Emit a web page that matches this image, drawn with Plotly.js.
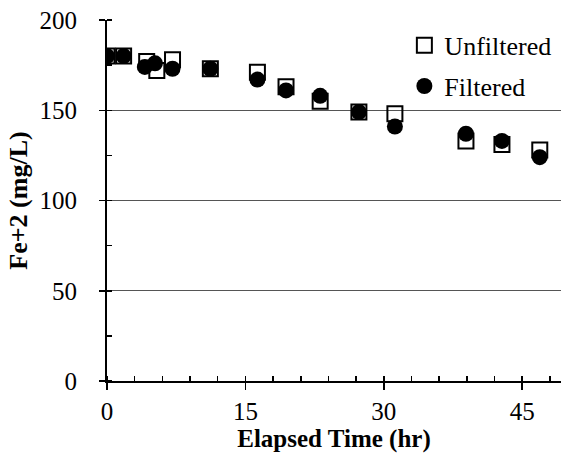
<!DOCTYPE html>
<html>
<head>
<meta charset="utf-8">
<script src="https://cdn.plot.ly/plotly-3.0.1.min.js"></script>
<style>html,body{margin:0;padding:0;background:#fff;}#chart{width:563px;height:459px;}</style>
</head>
<body>
<div id="chart"></div>
<script>
// Elapsed time (hr)
const timeUnfiltered = [0, 1.8, 4.3, 5.4, 7.1, 11.2, 16.3, 19.4, 23.1, 27.3, 31.2, 38.9, 42.8, 46.9];
const unfiltered     = [180, 180, 177, 172, 178, 173, 171, 163, 155, 149, 148, 133, 131, 128];
const timeFiltered   = [0, 1.8, 4.1, 5.2, 7.1, 11.2, 16.3, 19.4, 23.1, 27.3, 31.2, 38.9, 42.8, 46.9];
const filtered       = [180, 180, 174, 176, 173, 173, 167, 161, 158, 149, 141, 137, 133, 124];
const xTickVals = [0, 15, 30, 45];
const yTickVals = [0, 50, 100, 150, 200];
const seriesNames = ["Unfiltered", "Filtered"];

const serif = "'Liberation Serif', 'Times New Roman', serif";

const traces = [
  {
    x: timeUnfiltered, y: unfiltered, name: seriesNames[0], legendgroup: "u",
    type: "scatter", mode: "markers",
    marker: {symbol: "square-open", size: 15, color: "#000", line: {width: 2, color: "#000"}}
  },
  {
    x: timeFiltered, y: filtered, name: seriesNames[1], legendgroup: "f",
    type: "scatter", mode: "markers",
    marker: {symbol: "circle", size: 16, color: "#000"}
  }
];

const layout = {
  width: 563, height: 459,
  margin: {l: 107, r: 2, t: 20, b: 78},
  paper_bgcolor: "#fff", plot_bgcolor: "#fff",
  showlegend: true,
  legend: {
    x: 0.655, y: 0.995, xanchor: "left", yanchor: "top",
    bgcolor: "rgba(255,255,255,0)",
    font: {family: serif, size: 26, color: "#000"},
    itemwidth: 30, tracegroupgap: 4
  },
  xaxis: {
    range: [0, 49.2],
    tickmode: "array", tickvals: xTickVals,
    ticks: "outside", ticklen: 7, tickwidth: 1.5, tickcolor: "#000",
    minor: {dtick: 3, ticks: "inside", ticklen: 5, tickcolor: "#000", showgrid: false},
    showline: true, linecolor: "#000", linewidth: 2,
    showgrid: false, zeroline: false,
    tickfont: {family: serif, size: 25, color: "#000"},
    ticklabelstandoff: 0,
    title: {text: "Elapsed Time (hr)", font: {family: serif, size: 25, color: "#000", weight: 700}, standoff: 0}
  },
  yaxis: {
    range: [0, 200],
    tickmode: "array", tickvals: yTickVals,
    ticks: "outside", ticklen: 6, tickwidth: 1.5, tickcolor: "#000",
    minor: {dtick: 25, ticks: "inside", ticklen: 5, tickcolor: "#000", showgrid: false},
    showline: true, linecolor: "#000", linewidth: 2,
    showgrid: true, gridcolor: "#555", gridwidth: 1,
    zeroline: false,
    tickfont: {family: serif, size: 25, color: "#000"},
    ticklabelstandoff: 17,
    title: {text: "Fe+2 (mg/L)", font: {family: serif, size: 26, color: "#000", weight: 700}, standoff: 4}
  }
};

Plotly.newPlot("chart", traces, layout, {displayModeBar: false, staticPlot: true});
</script>
</body>
</html>
